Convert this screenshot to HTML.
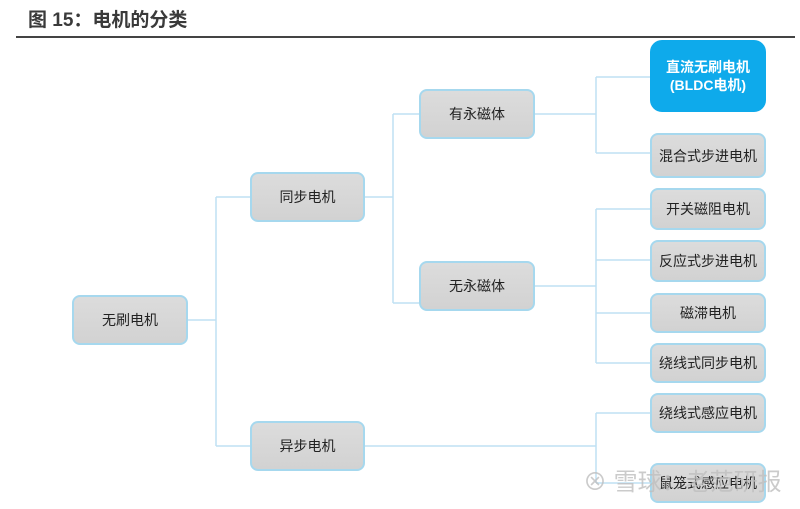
<!DOCTYPE html>
<html><head><meta charset="utf-8"><style>
body{margin:0;width:800px;height:509px;background:#fff;position:relative;overflow:hidden;font-family:"Liberation Sans","Noto Sans CJK SC",sans-serif;}
.t{position:absolute;left:28px;top:5px;font-size:19px;font-weight:bold;color:#3a3a3a;}
.hl{position:absolute;left:16px;top:36px;width:779px;height:2px;background:#444;}
.b{position:absolute;box-sizing:border-box;border:2px solid #a6d8ee;border-radius:8px;background:linear-gradient(#dcdcdc,#d2d2d2);display:flex;align-items:center;justify-content:center;font-size:14px;color:#222;text-align:center;line-height:18px;}
.blue{background:#0eaaeb;border-color:#0eaaeb;color:#fff;font-weight:bold;border-radius:12px;}
svg{position:absolute;left:0;top:0;}
.wm{position:absolute;left:583px;top:468px;font-size:24px;line-height:30px;white-space:nowrap;color:rgba(190,190,190,0.8);}
</style></head><body>
<div class="t">图 15：电机的分类</div>
<div class="hl"></div>
<svg width="800" height="509"><g stroke="#bfe0f3" stroke-width="1.5" fill="none">
<path d="M188 320H216M216 197V446M216 197H250M216 446H250"/>
<path d="M365 197H393M393 114V303M393 114H419M393 303H419"/>
<path d="M535 114H596M596 77V153M596 77H650M596 153H650"/>
<path d="M535 286H596M596 209V363M596 209H650M596 260H650M596 313H650M596 363H650"/>
<path d="M365 446H596M596 413V483M596 413H650M596 483H650"/>
</g></svg>
<div class="b" style="left:72px;top:295px;width:116px;height:50px">无刷电机</div>
<div class="b" style="left:250px;top:172px;width:115px;height:50px">同步电机</div>
<div class="b" style="left:250px;top:421px;width:115px;height:50px">异步电机</div>
<div class="b" style="left:419px;top:89px;width:116px;height:50px">有永磁体</div>
<div class="b" style="left:419px;top:261px;width:116px;height:50px">无永磁体</div>
<div class="b blue" style="left:650px;top:40px;width:116px;height:72px">直流无刷电机<br>(BLDC电机)</div>
<div class="b" style="left:650px;top:133px;width:116px;height:45px">混合式步进电机</div>
<div class="b" style="left:650px;top:188px;width:116px;height:42px">开关磁阻电机</div>
<div class="b" style="left:650px;top:240px;width:116px;height:42px">反应式步进电机</div>
<div class="b" style="left:650px;top:293px;width:116px;height:40px">磁滞电机</div>
<div class="b" style="left:650px;top:343px;width:116px;height:40px">绕线式同步电机</div>
<div class="b" style="left:650px;top:393px;width:116px;height:40px">绕线式感应电机</div>
<div class="b" style="left:650px;top:463px;width:116px;height:40px">鼠笼式感应电机</div>
<div class="wm">⊗ 雪球：老范研报</div>
</body></html>
